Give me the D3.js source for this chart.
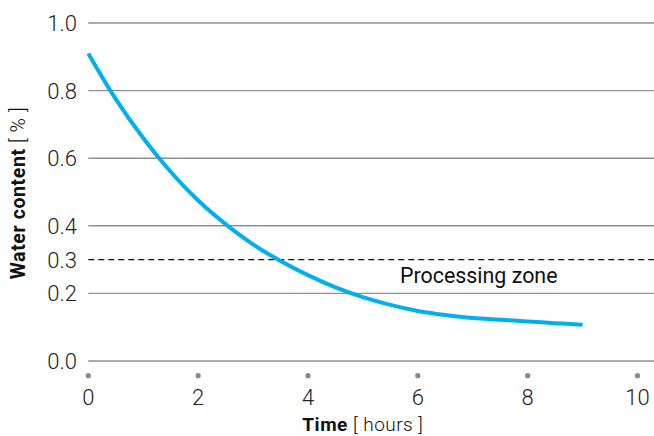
<!DOCTYPE html>
<html><head><meta charset="utf-8">
<script src="https://cdn.jsdelivr.net/npm/d3@7"></script>
<style>body{margin:0;background:#fff}svg{display:block}</style>
</head><body>
<svg id="c" width="654" height="436"></svg>
<script>
const timeHours = [0, 0.5, 1, 1.5, 2, 2.5, 3, 3.5, 4, 4.5, 5, 5.5, 6, 6.5, 7, 7.5, 8, 8.5, 9];
const waterContent = [0.91, 0.775, 0.66, 0.56, 0.475, 0.405, 0.345, 0.296, 0.254, 0.218, 0.189, 0.166, 0.148, 0.136, 0.127, 0.122, 0.117, 0.112, 0.107];
const yTicks = [0.0, 0.2, 0.3, 0.4, 0.6, 0.8, 1.0];
const ySolidGrid = [0.0, 0.2, 0.4, 0.6, 0.8, 1.0];
const yDashed = [0.3];
const xTicks = [0, 2, 4, 6, 8, 10];
const zoneLabel = "Processing zone";

const svg = d3.select("#c");
const x = d3.scaleLinear().domain([0, 10]).range([88.3, 637.5]);
const y = d3.scaleLinear().domain([0, 1]).range([361, 23]);
const font = "Roboto, 'Liberation Sans', Arial, sans-serif";

// gridlines
svg.append("g").selectAll("line").data(ySolidGrid).join("line")
  .attr("x1", x(0)).attr("x2", 654)
  .attr("y1", d => y(d)).attr("y2", d => y(d))
  .attr("stroke", "#8f8f8f").attr("stroke-width", 1.4);
svg.append("g").selectAll("line").data(yDashed).join("line")
  .attr("x1", x(0)).attr("x2", 654)
  .attr("y1", d => y(d)).attr("y2", d => y(d))
  .attr("stroke", "#111").attr("stroke-width", 1.2)
  .attr("stroke-dasharray", "6,4");

// y tick labels
svg.append("g").selectAll("text").data(yTicks).join("text")
  .attr("x", 77).attr("y", d => y(d)).attr("dy", "0.36em")
  .attr("text-anchor", "end")
  .attr("font-family", font).attr("font-weight", 300).attr("font-size", 22)
  .attr("fill", "#222")
  .text(d => d3.format(".1f")(d));

// x tick dots and labels
svg.append("g").selectAll("circle").data(xTicks).join("circle")
  .attr("cx", d => x(d)).attr("cy", 375.7).attr("r", 2.6)
  .attr("fill", "#8a8a8a");
svg.append("g").selectAll("text").data(xTicks).join("text")
  .attr("x", d => x(d)).attr("y", 405)
  .attr("text-anchor", "middle")
  .attr("font-family", font).attr("font-weight", 300).attr("font-size", 22)
  .attr("fill", "#222")
  .text(d => d);

// curve
const line = d3.line()
  .x((d, i) => x(timeHours[i]))
  .y(d => y(d))
  .curve(d3.curveCatmullRom);
svg.append("path").datum(waterContent)
  .attr("d", line)
  .attr("fill", "none")
  .attr("stroke", "#00b0ee")
  .attr("stroke-width", 4);

// zone label
svg.append("text").attr("x", 400).attr("y", 283.3)
  .attr("font-family", font).attr("font-weight", 400).attr("font-size", 21.4)
  .attr("fill", "#111").text(zoneLabel);

// axis titles
const xt = svg.append("text").attr("x", x(5)).attr("y", 431)
  .attr("text-anchor", "middle")
  .attr("font-family", font).attr("font-size", 19).attr("letter-spacing", 0.5).attr("fill", "#111");
xt.append("tspan").attr("font-weight", 700).text("Time");
xt.append("tspan").attr("font-weight", 300).text(" [ hours ]");

const yt = svg.append("text")
  .attr("transform", "translate(25,193) rotate(-90)")
  .attr("text-anchor", "middle")
  .attr("font-family", font).attr("font-size", 19.5).attr("letter-spacing", 0.6).attr("fill", "#111");
yt.append("tspan").attr("font-weight", 700).text("Water content");
yt.append("tspan").attr("font-weight", 300).text(" [ % ]");
</script>
</body></html>
